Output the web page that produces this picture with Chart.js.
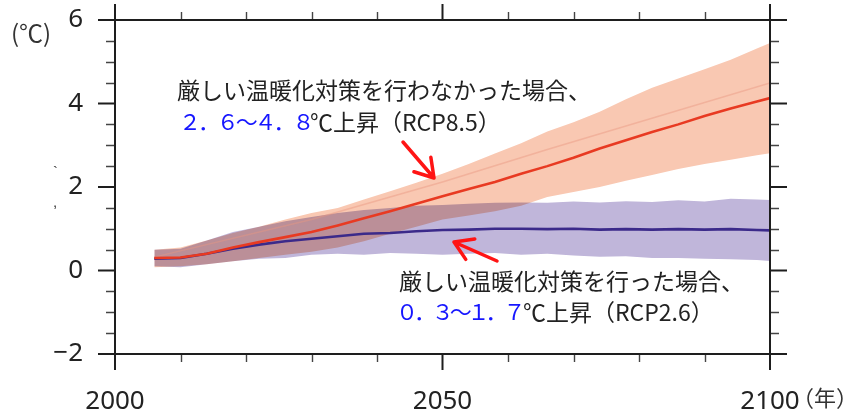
<!DOCTYPE html>
<html lang="ja">
<head>
<meta charset="utf-8">
<title>気温上昇の予測</title>
<script src="https://cdn.jsdelivr.net/npm/chart.js@4.4.1/dist/chart.umd.min.js"></script>
<style>
  html, body { margin: 0; padding: 0; background: #fff; }
  #wrap { width: 858px; height: 412px; }
</style>
</head>
<body>
<div id="wrap"><canvas id="c" width="858" height="412"></canvas></div>
<script>
// Years of the projection (1986-2005 baseline, anomaly in ℃)
const years = [2006, 2010, 2014, 2018, 2022, 2026, 2030, 2034, 2038, 2042, 2046, 2050, 2054,
               2058, 2062, 2066, 2070, 2074, 2078, 2082, 2086, 2090, 2094, 2098, 2100];

// RCP8.5 : mean and spread
const rcp85Mean = [0.30, 0.31, 0.40, 0.55, 0.68, 0.80, 0.92, 1.08, 1.25, 1.42, 1.60, 1.78, 1.95,
                   2.12, 2.32, 2.50, 2.70, 2.92, 3.12, 3.32, 3.50, 3.70, 3.88, 4.05, 4.13];
const rcp85High = [0.50, 0.55, 0.72, 0.90, 1.05, 1.22, 1.38, 1.50, 1.70, 1.90, 2.10, 2.32, 2.55,
                   2.80, 3.05, 3.33, 3.55, 3.80, 4.10, 4.38, 4.60, 4.82, 5.05, 5.32, 5.45];
const rcp85Low  = [0.08, 0.10, 0.15, 0.22, 0.30, 0.38, 0.45, 0.55, 0.70, 0.88, 1.05, 1.22, 1.32,
                   1.42, 1.55, 1.76, 1.88, 2.00, 2.15, 2.29, 2.43, 2.55, 2.65, 2.76, 2.81];

// RCP2.6 : mean and spread
const rcp26Mean = [0.28, 0.30, 0.40, 0.52, 0.62, 0.70, 0.76, 0.82, 0.88, 0.90, 0.94, 0.97, 0.98,
                   1.00, 1.00, 0.99, 1.00, 0.98, 0.99, 0.98, 0.99, 0.98, 0.99, 0.97, 0.96];
const rcp26High = [0.50, 0.52, 0.72, 0.92, 1.05, 1.18, 1.28, 1.38, 1.45, 1.50, 1.55, 1.57, 1.60,
                   1.62, 1.63, 1.62, 1.65, 1.63, 1.66, 1.64, 1.68, 1.65, 1.72, 1.70, 1.69];
const rcp26Low  = [0.10, 0.08, 0.15, 0.22, 0.28, 0.30, 0.38, 0.40, 0.38, 0.42, 0.40, 0.38, 0.40,
                   0.42, 0.38, 0.40, 0.36, 0.33, 0.34, 0.30, 0.30, 0.28, 0.27, 0.25, 0.23];

// faint trend line inside the RCP8.5 band
const trendYears = [2006, 2030, 2050, 2066, 2100];
const rcp85Trend = [0.32, 1.22, 2.12, 2.90, 4.49];

// axis ticks and labels
const xMajor = [2000, 2050, 2100];
const xMinorStep = 10;
const yMajor = [-2, 0, 2, 4, 6];
const yMinorStep = 0.5;
const yUnit = '(℃)';
const xUnit = '（年）';

// annotation texts
const note85Line1 = '厳しい温暖化対策を行わなかった場合、';
const note85Range = ['２', '．', '６', '～', '４', '．', '８'];
const note85Rest  = '℃上昇（RCP8.5）';
const note26Line1 = '厳しい温暖化対策を行った場合、';
const note26Range = ['０', '．', '３', '～', '１', '．', '７'];
const note26Rest  = '℃上昇（RCP2.6）';

const JP = "'Noto Sans CJK JP', sans-serif";
Chart.defaults.font.family = "'Noto Sans', sans-serif";

const pts = (xs, ys) => xs.map((x, i) => ({ x: x, y: ys[i] }));

// bands are blended with multiply so the overlap darkens like ink
const blendPlugin = {
  id: 'bandBlend',
  beforeDraw(chart) { chart.ctx.globalCompositeOperation = 'multiply'; },
  beforeDatasetsDraw(chart) { chart.ctx.globalCompositeOperation = 'source-over'; }
};

function arrow(ctx, x1, y1, x2, y2) {
  const a = Math.atan2(y2 - y1, x2 - x1);
  const len = 21, spread = 0.56;
  ctx.beginPath();
  ctx.moveTo(x1, y1);
  ctx.lineTo(x2, y2);
  ctx.moveTo(x2 - len * Math.cos(a - spread), y2 - len * Math.sin(a - spread));
  ctx.lineTo(x2, y2);
  ctx.lineTo(x2 - len * Math.cos(a + spread), y2 - len * Math.sin(a + spread));
  ctx.stroke();
}

const framePlugin = {
  id: 'frameTicks',
  afterDraw(chart) {
    const ctx = chart.ctx;
    const xs = chart.scales.x, ys = chart.scales.y;
    const L = xs.getPixelForValue(2000), R = xs.getPixelForValue(2100);
    const T = ys.getPixelForValue(6), B = ys.getPixelForValue(-2);
    ctx.save();
    ctx.globalCompositeOperation = 'source-over';
    ctx.lineCap = 'butt';

    // minor ticks
    ctx.lineWidth = 1.4;
    ctx.strokeStyle = '#444';
    ctx.beginPath();
    for (let v = -2; v <= 6.001; v += yMinorStep) {
      if (yMajor.includes(Math.round(v * 10) / 10)) continue;
      const y = Math.round(ys.getPixelForValue(v)) + 0.5;
      ctx.moveTo(L - 9, y); ctx.lineTo(L, y);
      ctx.moveTo(R, y); ctx.lineTo(R + 9, y);
    }
    for (let yr = 2000; yr <= 2100; yr += xMinorStep) {
      if (xMajor.includes(yr)) continue;
      const x = Math.round(xs.getPixelForValue(yr)) + 0.5;
      ctx.moveTo(x, T - 8); ctx.lineTo(x, T);
      ctx.moveTo(x, B); ctx.lineTo(x, B + 8);
    }
    ctx.stroke();

    // frame and major ticks
    ctx.strokeStyle = '#1e1e1e';
    ctx.lineWidth = 2;
    ctx.strokeRect(L, T, R - L, B - T);
    ctx.beginPath();
    yMajor.forEach(v => {
      const y = ys.getPixelForValue(v);
      ctx.moveTo(L - 17, y); ctx.lineTo(L, y);
      ctx.moveTo(R, y); ctx.lineTo(R + 17, y);
    });
    xMajor.forEach(yr => {
      const x = xs.getPixelForValue(yr);
      ctx.moveTo(x, T - 16); ctx.lineTo(x, T);
      ctx.moveTo(x, B); ctx.lineTo(x, B + 16);
    });
    ctx.stroke();

    // unit labels
    ctx.fillStyle = '#333';
    ctx.textBaseline = 'middle';
    ctx.textAlign = 'left';
    ctx.font = '24px ' + JP;
    ctx.fillText(yUnit, 11, 33);
    ctx.font = '22px ' + JP;
    ctx.fillText(xUnit, 792, 398);
    ctx.font = "15px 'Liberation Sans', sans-serif";
    ctx.fillText('`', 53, 173);
    ctx.fillText(',', 53, 203);

    // annotations
    ctx.fillStyle = '#222';
    ctx.font = '23px ' + JP;
    ctx.fillText(note85Line1, 177, 90);
    ctx.fillText(note26Line1, 399, 281);

    ctx.fillStyle = '#1616ff';
    ctx.font = '22px ' + JP;
    ctx.textAlign = 'center';
    note85Range.forEach((ch, i) => ctx.fillText(ch, 190 + i * 18.9, 122));
    note26Range.forEach((ch, i) => ctx.fillText(ch, 407 + i * 17.9, 312));

    ctx.fillStyle = '#222';
    ctx.font = '23px ' + JP;
    ctx.textAlign = 'left';
    ctx.fillText(note85Rest, 310, 122);
    ctx.fillText(note26Rest, 523, 312);

    // arrows
    ctx.strokeStyle = '#ff1414';
    ctx.lineWidth = 3.5;
    ctx.lineCap = 'round';
    ctx.lineJoin = 'round';
    arrow(ctx, 403, 142, 434, 178);
    arrow(ctx, 497, 261, 454, 242);
    ctx.restore();
  }
};

const line = (label, data, color, width) => ({
  label, data, borderColor: color, borderWidth: width, pointRadius: 0, fill: false, tension: 0
});

const noPad = s => { s.paddingTop = 0; s.paddingBottom = 0; s.paddingLeft = 0; s.paddingRight = 0; };

new Chart(document.getElementById('c'), {
  type: 'line',
  data: {
    datasets: [
      line('RCP8.5', pts(years, rcp85Mean), '#e83a22', 2.6),
      line('RCP2.6', pts(years, rcp26Mean), '#3b2a8a', 2.6),
      line('RCP8.5 傾向', pts(trendYears, rcp85Trend), 'rgba(232,150,128,0.45)', 1.5),
      line('RCP8.5 下限', pts(years, rcp85Low), 'rgba(0,0,0,0)', 0),
      Object.assign(line('RCP8.5 上限', pts(years, rcp85High), 'rgba(0,0,0,0)', 0),
                    { fill: 3, backgroundColor: '#f9c8b2' }),
      line('RCP2.6 下限', pts(years, rcp26Low), 'rgba(0,0,0,0)', 0),
      Object.assign(line('RCP2.6 上限', pts(years, rcp26High), 'rgba(0,0,0,0)', 0),
                    { fill: 5, backgroundColor: '#c0b6da' })
    ]
  },
  options: {
    responsive: false,
    animation: false,
    devicePixelRatio: 1,
    events: [],
    layout: { padding: { top: 20, right: 88, left: 0, bottom: 0 } },
    plugins: {
      legend: { display: false },
      tooltip: { enabled: false },
      filler: { drawTime: 'beforeDatasetsDraw', propagate: false }
    },
    scales: {
      x: {
        type: 'linear', min: 2000, max: 2100,
        grid: { display: false, drawTicks: false },
        border: { display: false },
        afterBuildTicks: s => { s.ticks = xMajor.map(v => ({ value: v })); },
        afterFit: s => { s.height = 58; noPad(s); },
        ticks: { padding: 32, color: '#222', font: { size: 26 }, maxRotation: 0, autoSkip: false,
                 callback: v => String(v) }
      },
      y: {
        min: -2, max: 6,
        grid: { display: false, drawTicks: false },
        border: { display: false },
        afterBuildTicks: s => { s.ticks = yMajor.map(v => ({ value: v })); },
        afterFit: s => { s.width = 115; noPad(s); },
        ticks: { padding: 32, color: '#222', font: { size: 26 },
                 callback: v => (v < 0 ? '\u2212' + Math.abs(v) : String(v)) }
      }
    }
  },
  plugins: [blendPlugin, framePlugin]
});
</script>
</body>
</html>
